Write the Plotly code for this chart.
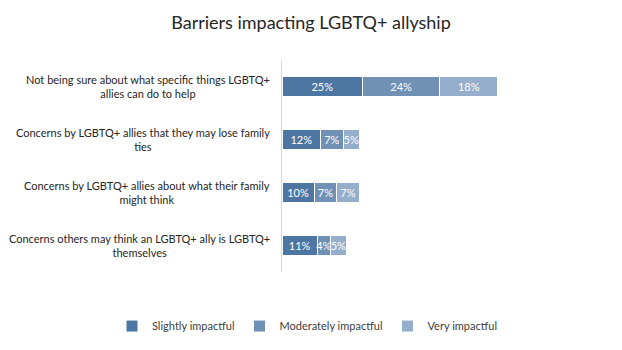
import plotly.graph_objects as go

categories = [
    "Not being sure about what specific things LGBTQ+<br>allies can do to help",
    "Concerns by LGBTQ+ allies that they may lose family<br>ties",
    "Concerns by LGBTQ+ allies about what their family<br>might think",
    "Concerns others may think an LGBTQ+ ally is LGBTQ+<br>themselves",
]
series_names = ["Slightly impactful", "Moderately impactful", "Very impactful"]
slightly = [25, 12, 10, 11]
moderately = [24, 7, 7, 4]
very = [18, 5, 7, 5]
colors = ["#4e76a2", "#7090b4", "#94aecb"]

font_family = "Lato, 'Open Sans', sans-serif"

W, H = 622, 350
ML, MR = 10, 18
plot_w = W - ML - MR
x0 = (282 - ML) / plot_w

fig = go.Figure()
for name, vals, col in zip(series_names, [slightly, moderately, very], colors):
    fig.add_trace(go.Bar(
        y=categories, x=vals, name=name, orientation="h",
        marker=dict(color=col, line=dict(color="white", width=1)),
        text=[f"{v}%" for v in vals], textposition="inside",
        insidetextanchor="middle", textangle=0, constraintext="none",
        textfont=dict(color="white", size=11, family=font_family),
        hoverinfo="skip",
    ))

for c in categories:
    fig.add_annotation(
        x=(272 - ML) / plot_w, xref="paper", y=c, yref="y", text=c, showarrow=False,
        xanchor="right", yanchor="middle", align="center",
        font=dict(size=11, color="#262626", family=font_family),
    )

fig.update_layout(
    width=W, height=H,
    barmode="stack", bargap=0.63,
    margin=dict(l=ML, r=MR, t=60, b=74),
    paper_bgcolor="white", plot_bgcolor="white",
    title=dict(text="Barriers impacting LGBTQ+ allyship", x=0.5, xanchor="center",
               y=0.935, yanchor="middle",
               font=dict(size=18, color="#262626", family=font_family)),
    xaxis=dict(domain=[x0, 1], range=[0, 100], showgrid=False, showticklabels=False,
               zeroline=False, showline=False, ticks=""),
    yaxis=dict(autorange="reversed", showticklabels=False, showgrid=False,
               showline=True, linecolor="#d9d9d9", linewidth=1, ticks="",
               categoryorder="array", categoryarray=categories),
    legend=dict(orientation="h", x=(112 - ML) / plot_w, xanchor="left",
                y=-0.255, yanchor="middle",
                font=dict(size=11, color="#404040", family=font_family),
                itemwidth=30, traceorder="normal", tracegroupgap=0),
    showlegend=True,
)

fig.write_html("out.html")
